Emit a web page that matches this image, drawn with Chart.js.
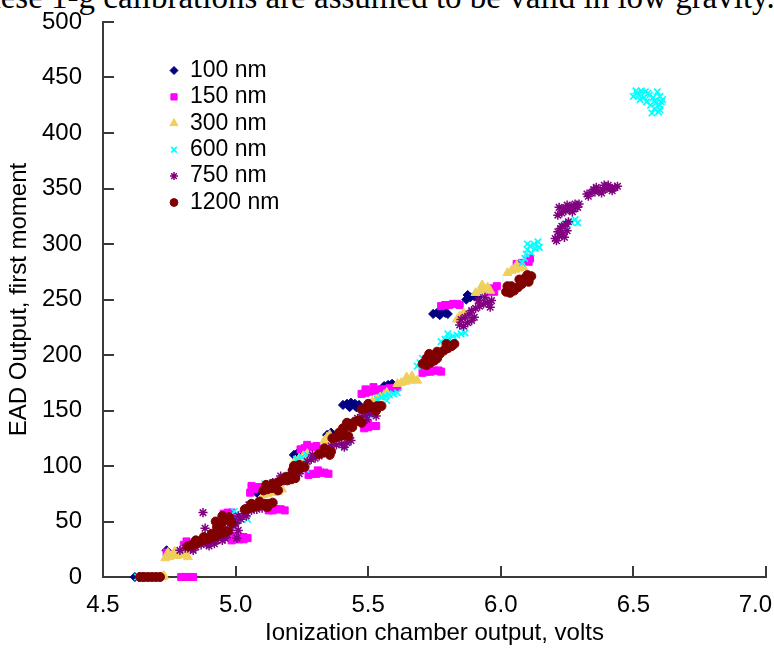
<!DOCTYPE html>
<html>
<head>
<meta charset="utf-8">
<script src="https://cdn.jsdelivr.net/npm/chart.js@4/dist/chart.umd.min.js"></script>
<style>
  html, body { margin: 0; padding: 0; background: #fff; overflow: hidden; }
  #wrap { position: relative; width: 774px; height: 648px; overflow: hidden; }
  #note { position: absolute; left: -36px; top: -19px; white-space: nowrap;
          font: 33px/32px "Liberation Serif", "Times New Roman", serif; color: #000; }
  canvas { position: absolute; left: 0; top: 0; }
</style>
</head>
<body>
<div id="wrap">
  <div id="note">These 1-g calibrations are assumed to be valid in low gravity.</div>
  <canvas id="chart" width="774" height="648"></canvas>
</div>
<script>
// Particle sizes (legend labels)
const seriesLabels = ['100 nm', '150 nm', '300 nm', '600 nm', '750 nm', '1200 nm'];

// Axis ticks
const xTickValues = [4.5, 5.0, 5.5, 6.0, 6.5, 7.0];
const yTickValues = [0, 50, 100, 150, 200, 250, 300, 350, 400, 450, 500];

// [ionization chamber volts, EAD first moment]
const nm100 = [
  [4.62,0],[4.635,0],[4.65,0],[4.74,24],[5.08,76],
  [5.22,110],[5.235,112],[5.25,113],[5.265,111],
  [5.345,128],[5.36,130],
  [5.405,155],[5.42,156],[5.435,157],[5.45,156],[5.465,155],[5.43,153],[5.455,153],
  [5.56,172],[5.575,173],[5.59,174],
  [5.745,237],[5.76,238],[5.775,238],[5.79,238],[5.80,237],[5.77,236],[5.78,240],
  [5.87,250],[5.885,252],[5.90,253],[5.915,252],[5.875,254]
];

const nm150 = [
  [4.795,0],[4.81,0],[4.825,0],[4.84,0],
  [4.74,22],[4.805,29],[4.815,32],
  [4.985,33],[5.00,34],[5.015,34],[5.03,34],[5.045,35],[5.00,37],[5.03,36],
  [4.955,57],[4.97,58],[4.985,58],
  [5.125,60],[5.14,60],[5.155,61],[5.17,61],[5.185,60],
  [5.055,76],[5.07,79],[5.085,81],[5.06,82],
  [5.275,92],[5.29,93],[5.305,93],[5.32,94],[5.335,94],[5.35,93],[5.31,96],
  [5.245,115],[5.26,116],[5.275,117],[5.29,117],[5.305,118],[5.27,119],
  [5.485,134],[5.50,135],[5.515,136],[5.53,136],[5.50,138],
  [5.475,165],[5.49,166],[5.505,167],[5.52,168],[5.535,168],[5.55,169],[5.565,169],
  [5.58,170],[5.595,170],[5.61,171],[5.49,169],[5.52,171],
  [5.705,184],[5.72,185],[5.735,185],[5.75,186],[5.765,186],[5.775,185],
  [5.775,244],[5.79,245],[5.805,245],[5.82,246],[5.835,246],[5.845,245],
  [5.955,257],[5.97,260],[5.985,262],[5.975,257],
  [6.06,282],[6.08,283],[6.10,285],[6.105,284],[6.11,287]
];

const nm300 = [
  [4.725,0],[4.73,1],
  [4.735,17],[4.75,18],[4.765,19],[4.78,19],[4.795,20],[4.81,21],[4.745,22],[4.77,23],[4.80,24],[4.82,18],
  [5.105,74],[5.12,75],[5.14,76],[5.16,77],[5.175,79],
  [5.225,105],[5.24,107],[5.255,109],[5.27,111],
  [5.335,123],[5.345,126],[5.355,128],
  [5.515,158],[5.53,160],[5.545,162],[5.56,164],[5.57,166],
  [5.61,174],[5.625,175],[5.64,176],[5.655,177],[5.67,178],[5.685,177],[5.645,180],[5.665,181],
  [5.835,232],[5.845,235],[5.86,238],
  [5.905,256],[5.92,258],[5.935,259],[5.95,261],[5.96,258],[5.93,263],
  [6.025,274],[6.04,276],[6.055,277],[6.07,278],[6.085,279],[6.06,281]
];

const nm600 = [
  [4.63,0],
  [4.995,59],[5.005,57],[5.045,52],
  [5.11,84],[5.125,82],
  [5.20,92],[5.22,94],[5.245,96],[5.265,97],
  [5.23,106],[5.25,108],[5.27,110],
  [5.41,118],[5.425,121],
  [5.505,146],[5.52,148],
  [5.535,160],[5.55,162],[5.565,163],[5.58,164],[5.595,165],[5.61,166],[5.57,159],
  [5.685,190],[5.695,193],[5.705,197],
  [5.775,212],[5.79,214],[5.805,215],[5.82,217],[5.835,218],[5.85,219],[5.865,220],[5.80,219],
  [6.08,283],[6.09,287],[6.095,291],[6.10,295],[6.11,298],[6.125,300],[6.14,302],
  [6.13,296],[6.115,292],[6.10,300],[6.145,297],
  [6.235,316],[6.25,318],[6.265,320],[6.28,322],[6.29,319],
  [6.50,433],[6.515,436],[6.53,438],[6.545,437],[6.56,434],[6.575,432],[6.59,437],[6.60,433],
  [6.525,430],[6.55,428],[6.565,425],[6.58,422],[6.595,419],[6.585,427],[6.60,425],[6.57,418],
  [6.51,438],[6.54,432],[6.555,436],[6.58,429],[6.61,430],[6.60,421],[6.605,428],[6.52,434]
];

const nm750 = [
  [4.79,24],[4.81,26],[4.83,25],[4.85,27],[4.87,29],[4.89,30],[4.91,32],[4.93,33],[4.95,36],
  [4.97,38],[4.84,24],[4.90,28],[4.92,30],[4.96,35],[4.98,42],[4.99,46],[5.00,49],[5.02,52],
  [5.04,55],[4.96,44],[4.94,42],
  [4.877,58],[4.885,44],[5.01,42],[5.005,35],[4.95,33],
  [5.04,58],[5.06,60],[5.08,61],[5.10,62],[5.12,63],[5.05,65],[5.09,66],
  [4.99,52],[5.01,55],[5.03,57],[5.00,48],
  [5.14,85],[5.16,86],[5.18,88],[5.20,90],[5.22,91],[5.24,93],[5.17,91],[5.21,94],
  [5.27,104],[5.285,106],[5.30,107],[5.315,109],[5.325,111],[5.29,110],
  [5.34,116],[5.36,118],[5.38,119],[5.40,120],[5.42,121],[5.435,123],[5.37,122],[5.41,117],
  [5.46,143],[5.475,144],[5.49,146],[5.505,147],[5.52,148],[5.495,142],[5.53,145],
  [5.845,227],[5.86,226],[5.875,229],[5.89,231],[5.90,234],[5.865,234],[5.88,237],[5.85,232],
  [5.89,240],[5.905,242],[5.92,244],[5.935,246],[5.95,247],[5.965,249],[5.915,249],[5.94,252],[5.96,243],
  [6.205,305],[6.22,307],[6.235,309],[6.25,312],[6.225,314],[6.245,318],[6.215,311],
  [6.21,303],[6.23,316],[6.255,320],[6.24,306],
  [6.215,326],[6.23,328],[6.245,330],[6.26,331],[6.275,332],[6.29,333],[6.22,333],[6.25,335],[6.28,336],
  [6.235,332],[6.265,334],[6.295,336],[6.27,329],
  [6.325,345],[6.34,346],[6.355,347],[6.37,348],[6.385,349],[6.40,350],[6.415,350],[6.43,351],
  [6.36,351],[6.39,353],[6.33,343],[6.35,349],[6.38,346],[6.405,353],[6.42,348],[6.44,352]
];

const nm1200 = [
  [4.64,0],[4.655,0],[4.67,0],[4.685,0],[4.70,0],[4.715,0],
  [4.82,28],[4.835,29],[4.85,30],[4.865,32],[4.88,33],[4.895,34],[4.91,36],[4.925,37],[4.94,39],
  [4.955,40],[4.97,41],[4.85,33],[4.88,36],[4.91,39],[4.93,45],[4.945,48],[4.96,51],[4.975,54],
  [4.95,55],[4.925,50],[4.985,49],
  [5.035,61],[5.05,62],[5.065,63],[5.08,64],[5.095,65],[5.11,66],[5.125,66],[5.14,67],[5.06,66],[5.09,68],[5.12,63],
  [5.105,78],[5.12,79],[5.135,80],[5.15,81],[5.115,83],[5.14,84],[5.16,78],
  [5.165,86],[5.18,87],[5.195,87],[5.21,88],[5.225,89],[5.19,90],
  [5.215,96],[5.23,97],[5.245,98],[5.26,99],[5.24,101],[5.22,100],
  [5.315,111],[5.33,112],[5.345,113],[5.36,113],[5.335,116],[5.355,110],
  [5.365,125],[5.38,126],[5.395,127],[5.41,128],[5.425,127],[5.39,130],
  [5.405,134],[5.42,136],[5.435,138],[5.45,140],[5.465,141],[5.44,135],[5.475,139],[5.42,139],
  [5.475,151],[5.49,152],[5.505,153],[5.52,153],[5.535,154],[5.55,154],[5.50,156],[5.53,150],
  [5.705,192],[5.72,191],[5.735,193],[5.75,195],[5.72,197],[5.74,199],[5.76,197],[5.77,201],
  [5.785,204],[5.80,206],[5.815,208],[5.825,210],[5.795,210],[5.76,203],[5.73,201],
  [6.02,257],[6.035,256],[6.05,258],[6.04,262],[6.065,261],[6.08,264],[6.07,268],[6.09,269],
  [6.10,272],[6.115,271],[6.105,266],[6.025,262]
];

const AXIS_COLOR = '#3a3a3a';
const TEXT_FONT = '"Liberation Sans", Arial, sans-serif';
const X_LABEL = v => Number(v).toFixed(1);
const X_LAST = xTickValues[xTickValues.length - 1];

const toXY = arr => arr.map(([x, y]) => ({ x, y }));

const styles = [
  { pointStyle: 'rectRot',  color: '#000080', radius: 4.6, width: 1,   order: 6 },
  { pointStyle: 'rect',     color: '#ff00ff', radius: 5,   width: 1,   order: 5 },
  { pointStyle: 'triangle', color: '#f0cf5c', radius: 5.2, width: 1,   order: 4 },
  { pointStyle: 'crossRot', color: '#00ffff', radius: 4.6, width: 1.7, order: 3 },
  { pointStyle: 'star',     color: '#800080', radius: 4.6, width: 1.5, order: 2 },
  { pointStyle: 'circle',   color: '#800000', radius: 4.5, width: 1,   order: 1 }
];
const seriesData = [nm100, nm150, nm300, nm600, nm750, nm1200];

const datasets = seriesData.map((d, i) => ({
  label: seriesLabels[i],
  data: toXY(d),
  pointStyle: styles[i].pointStyle,
  pointRadius: styles[i].radius,
  pointBorderWidth: styles[i].width,
  backgroundColor: styles[i].color,
  borderColor: styles[i].color,
  order: styles[i].order,
  clip: false
}));

// Inward tick marks along both axes, plus the last x label kept inside the canvas
const innerTicks = {
  id: 'innerTicks',
  beforeDatasetsDraw(chart) {
    const { ctx, chartArea: a, scales: { x, y } } = chart;
    ctx.save();
    ctx.strokeStyle = AXIS_COLOR;
    ctx.lineWidth = 2;
    ctx.beginPath();
    xTickValues.forEach(v => {
      if (v === x.min) return;
      const px = Math.round(x.getPixelForValue(v));
      ctx.moveTo(px, a.bottom); ctx.lineTo(px, a.bottom - 11);
    });
    yTickValues.forEach(v => {
      if (v === y.min) return;
      const py = Math.round(y.getPixelForValue(v));
      ctx.moveTo(a.left, py); ctx.lineTo(a.left + 11, py);
    });
    ctx.stroke();

    ctx.font = '24px ' + TEXT_FONT;
    ctx.fillStyle = '#000';
    ctx.textAlign = 'right';
    ctx.textBaseline = 'middle';
    ctx.fillText(X_LABEL(X_LAST), chart.width - 2, a.bottom + 14 + 14.4);
    ctx.restore();
  }
};

// Legend drawn inside the plot area, top-left
const insideLegend = {
  id: 'insideLegend',
  afterDraw(chart) {
    const { ctx } = chart;
    ctx.save();
    ctx.font = '23px ' + TEXT_FONT;
    ctx.textBaseline = 'middle';
    chart.data.datasets.forEach((ds, i) => {
      const cy = 70.5 + i * 26.4;
      ctx.fillStyle = ds.backgroundColor;
      ctx.strokeStyle = ds.borderColor;
      ctx.lineWidth = ds.pointBorderWidth;
      Chart.helpers.drawPoint(ctx, {
        pointStyle: ds.pointStyle, rotation: 0,
        radius: ds.pointRadius - 0.6, borderWidth: ds.pointBorderWidth
      }, 174, cy);
      ctx.fillStyle = '#000';
      ctx.fillText(ds.label, 190, cy);
    });
    ctx.restore();
  }
};

new Chart(document.getElementById('chart'), {
  type: 'scatter',
  data: { datasets },
  options: {
    responsive: false,
    animation: false,
    devicePixelRatio: 1,
    layout: { padding: { top: 22, right: 8, left: 0, bottom: 0 } },
    plugins: { legend: { display: false }, tooltip: { enabled: false } },
    scales: {
      x: {
        type: 'linear', min: 4.5, max: 7.0,
        afterBuildTicks: s => { s.ticks = xTickValues.map(v => ({ value: v })); },
        afterFit: s => { s.height = 71; s.paddingLeft = 0; s.paddingRight = 0; },
        grid: { display: false, drawTicks: false },
        border: { display: true, color: AXIS_COLOR, width: 2 },
        ticks: { padding: 14, color: '#000', font: { size: 24, family: TEXT_FONT },
                 maxRotation: 0, autoSkip: false,
                 callback: v => (v === X_LAST ? '' : X_LABEL(v)) },
        title: { display: true, text: 'Ionization chamber output, volts', color: '#000',
                 font: { size: 24, family: TEXT_FONT }, padding: { top: 0, bottom: 0 } }
      },
      y: {
        type: 'linear', min: 0, max: 500,
        afterBuildTicks: s => { s.ticks = yTickValues.map(v => ({ value: v })); },
        afterFit: s => { s.width = 103; s.paddingTop = 0; s.paddingBottom = 0; },
        grid: { display: false, drawTicks: false },
        border: { display: true, color: AXIS_COLOR, width: 2 },
        ticks: { padding: 21, color: '#000', font: { size: 24, family: TEXT_FONT }, autoSkip: false },
        title: { display: true, text: 'EAD Output, first moment', color: '#000',
                 font: { size: 24, family: TEXT_FONT }, padding: { top: 5, bottom: 0 } }
      }
    }
  },
  plugins: [innerTicks, insideLegend]
});
</script>
</body>
</html>
